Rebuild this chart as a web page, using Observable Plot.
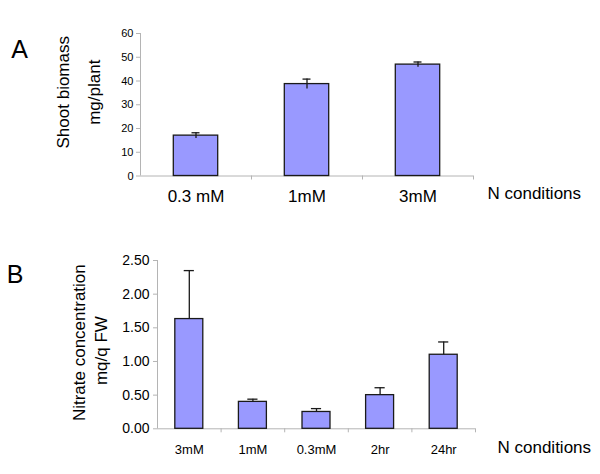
<!DOCTYPE html>
<html>
<head>
<meta charset="utf-8">
<script src="https://cdn.jsdelivr.net/npm/d3@7"></script>
<script src="https://cdn.jsdelivr.net/npm/@observablehq/plot@0.6"></script>
<style>
  html, body { margin: 0; padding: 0; background: #fff; }
  #wrap { width: 600px; height: 474px; display: flex; flex-direction: column; }
  #wrap svg { display: block; font-family: "Liberation Sans", Arial, sans-serif; }
</style>
</head>
<body>
<div id="wrap"></div>
<script>
// Panel A data
const catsA = ["0.3 mM", "1mM", "3mM"];
const valsA = [17.0, 38.7, 46.9];
const errA = [1.2, 2.1, 1.1];
const ticksA = [0, 10, 20, 30, 40, 50, 60];

// Panel B data
const catsB = ["3mM", "1mM", "0.3mM", "2hr", "24hr"];
const valsB = [1.63, 0.40, 0.25, 0.50, 1.10];
const errB = [0.72, 0.04, 0.05, 0.11, 0.19];
const ticksB = [0, 0.5, 1.0, 1.5, 2.0, 2.5];

const FONT = '"Liberation Sans", Arial, sans-serif';
const BAR = "#9999ff";
const AX = "#b4b4b4";

function panel(opts) {
  const {cats, vals, errs, ticks, yDomain, yFmt, height, margins, inset, cap, symmetric,
         tickFont, catFont, catPad, letter, letterOff, titles, ncondOff} = opts;
  const data = cats.map((c, i) => ({i, c, v: vals[i], e: errs[i]}));
  const n = cats.length;
  return Plot.plot({
    width: 600,
    height,
    marginTop: margins[0], marginRight: margins[1], marginBottom: margins[2], marginLeft: margins[3],
    style: {fontFamily: FONT, color: "#000", background: "#fff"},
    x: {type: "linear", domain: [0, n], axis: null},
    y: {domain: yDomain, axis: null},
    marks: [
      // axis lines
      Plot.ruleY([yDomain[0]], {stroke: AX, strokeWidth: 1}),
      Plot.ruleX([0], {stroke: AX, strokeWidth: 1}),
      // y axis
      Plot.axisY({ticks, tickSize: 4, tickPadding: tickFont.pad, tickFormat: yFmt,
                  stroke: AX, fill: "#000", fontSize: tickFont.size, anchor: "left", label: null}),
      // category separators
      Plot.axisX({ticks: d3.range(1, n + 1), tickSize: 4, tickFormat: () => "", stroke: AX, anchor: "bottom", label: null}),
      // category labels
      Plot.axisX({ticks: d3.range(n).map(i => i + 0.5), tickSize: 0, tickPadding: catPad,
                  tickFormat: t => cats[Math.floor(t)], fontSize: catFont, fill: "#000", anchor: "bottom", label: null}),
      // bars
      Plot.rectY(data, {x1: d => d.i + inset, x2: d => d.i + 1 - inset, y: "v",
                        fill: BAR, stroke: "#1a1a1a", strokeWidth: 1.3}),
      // error bars
      Plot.ruleX(data, {x: d => d.i + 0.5, y1: d => symmetric ? d.v - d.e : d.v, y2: d => d.v + d.e,
                        stroke: "#1a1a1a", strokeWidth: 1.3}),
      Plot.ruleY(data, {x1: d => d.i + 0.5 - cap, x2: d => d.i + 0.5 + cap, y: d => d.v + d.e,
                        stroke: "#1a1a1a", strokeWidth: 1.3}),
      // panel letter
      Plot.text([letter], {frameAnchor: "top-left", text: d => d, dx: letterOff[0], dy: letterOff[1],
                           fontSize: 25, textAnchor: "middle", lineAnchor: "middle", fill: "#000"}),
      // y titles
      ...titles.map(t => Plot.text([t.text], {frameAnchor: "left", text: d => d, rotate: -90,
                           dx: t.dx, dy: t.dy, fontSize: 17, textAnchor: "middle", lineAnchor: "middle", fill: "#000"})),
      // N conditions
      Plot.text(["N conditions"], {frameAnchor: "bottom-right", text: d => d, dx: ncondOff[0], dy: ncondOff[1],
                           fontSize: 17, textAnchor: "start", lineAnchor: "middle", fill: "#000"})
    ]
  });
}

const chartA = panel({
  cats: catsA, vals: valsA, errs: errA, ticks: ticksA, yDomain: [0, 60], yFmt: d3.format("d"),
  height: 237, margins: [33, 127, 61.5, 140], inset: 0.3, cap: 0.036, symmetric: true,
  tickFont: {size: 11, pad: 3}, catFont: 17, catPad: 13.5,
  letter: "A", letterOff: [-121, 16],
  titles: [{text: "Shoot biomass", dx: -76.5, dy: -12.5}, {text: "mg/plant", dx: -46, dy: -12.5}],
  ncondOff: [14, 17.5]
});

const chartB = panel({
  cats: catsB, vals: valsB, errs: errB, ticks: ticksB, yDomain: [0, 2.5], yFmt: d3.format(".2f"),
  height: 237, margins: [23, 125, 45.7, 157], inset: 0.28, cap: 0.08, symmetric: false,
  tickFont: {size: 14, pad: 4}, catFont: 13, catPad: 16,
  letter: "B", letterOff: [-142.5, 14.5],
  titles: [{text: "Nitrate concentration", dx: -77.5, dy: -2}, {text: "mq/q FW", dx: -56, dy: 6}],
  ncondOff: [22, 18.7]
});

const wrap = document.getElementById("wrap");
wrap.appendChild(chartA);
wrap.appendChild(chartB);
</script>
</body>
</html>
